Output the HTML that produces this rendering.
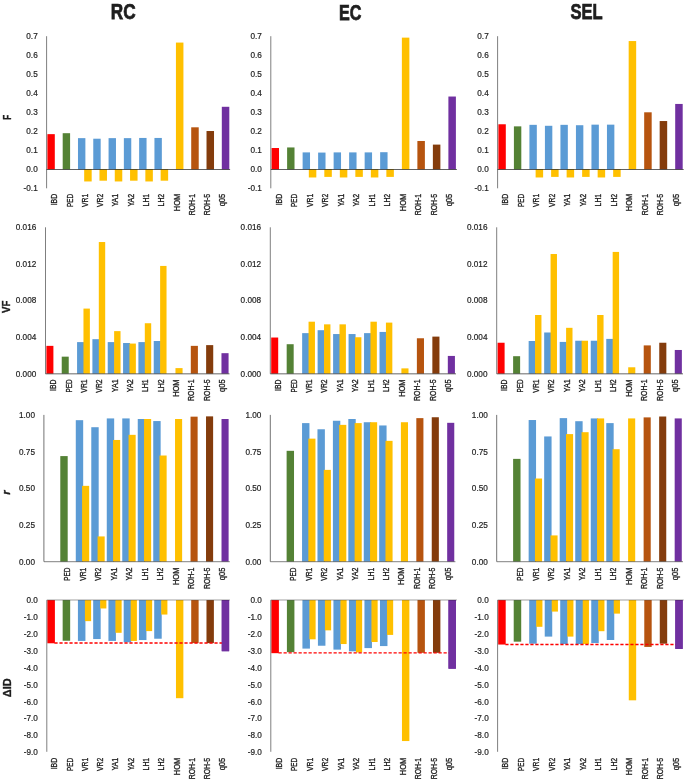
<!DOCTYPE html>
<html><head><meta charset="utf-8"><style>
html,body{margin:0;padding:0;background:#fff;}
body{width:685px;height:780px;overflow:hidden;}
svg{display:block;will-change:transform;}
text{font-family:"Liberation Sans", sans-serif;fill:#1e1e1e;stroke:#1e1e1e;stroke-width:0.2px;}
</style></head><body>
<svg width="685" height="780" viewBox="0 0 685 780">
<rect x="47.40" y="134.15" width="7.40" height="35.15" fill="#FF0000"/>
<rect x="62.69" y="133.20" width="7.40" height="36.10" fill="#548235"/>
<rect x="77.98" y="138.14" width="7.40" height="31.16" fill="#5B9BD5"/>
<rect x="93.27" y="138.71" width="7.40" height="30.59" fill="#5B9BD5"/>
<rect x="108.57" y="138.14" width="7.40" height="31.16" fill="#5B9BD5"/>
<rect x="123.86" y="138.14" width="7.40" height="31.16" fill="#5B9BD5"/>
<rect x="139.15" y="137.95" width="7.40" height="31.35" fill="#5B9BD5"/>
<rect x="154.44" y="137.95" width="7.40" height="31.35" fill="#5B9BD5"/>
<rect x="84.18" y="169.30" width="7.50" height="12.16" fill="#FFC000"/>
<rect x="99.47" y="169.30" width="7.50" height="11.40" fill="#FFC000"/>
<rect x="114.77" y="169.30" width="7.50" height="12.16" fill="#FFC000"/>
<rect x="130.06" y="169.30" width="7.50" height="11.40" fill="#FFC000"/>
<rect x="145.35" y="169.30" width="7.50" height="12.16" fill="#FFC000"/>
<rect x="160.64" y="169.30" width="7.50" height="11.40" fill="#FFC000"/>
<rect x="175.93" y="42.57" width="7.50" height="126.73" fill="#FFC000"/>
<rect x="191.22" y="127.31" width="7.50" height="41.99" fill="#B6540F"/>
<rect x="206.52" y="131.02" width="7.50" height="38.28" fill="#843C0C"/>
<rect x="221.81" y="106.79" width="7.50" height="62.51" fill="#7030A0"/>
<line x1="46.60" y1="169.50" x2="230.10" y2="169.50" stroke="#000" stroke-width="1.1" stroke-opacity="0.62"/>
<line x1="46.60" y1="36.20" x2="46.60" y2="188.30" stroke="#000" stroke-width="1.0" stroke-opacity="0.5"/>
<text x="37.70" y="39.35" text-anchor="end" font-size="8.6" textLength="11.39" lengthAdjust="spacingAndGlyphs">0.7</text>
<text x="37.70" y="58.35" text-anchor="end" font-size="8.6" textLength="11.39" lengthAdjust="spacingAndGlyphs">0.6</text>
<text x="37.70" y="77.35" text-anchor="end" font-size="8.6" textLength="11.39" lengthAdjust="spacingAndGlyphs">0.5</text>
<text x="37.70" y="96.35" text-anchor="end" font-size="8.6" textLength="11.39" lengthAdjust="spacingAndGlyphs">0.4</text>
<text x="37.70" y="115.35" text-anchor="end" font-size="8.6" textLength="11.39" lengthAdjust="spacingAndGlyphs">0.3</text>
<text x="37.70" y="134.35" text-anchor="end" font-size="8.6" textLength="11.39" lengthAdjust="spacingAndGlyphs">0.2</text>
<text x="37.70" y="153.35" text-anchor="end" font-size="8.6" textLength="11.39" lengthAdjust="spacingAndGlyphs">0.1</text>
<text x="37.70" y="172.35" text-anchor="end" font-size="8.6" textLength="11.39" lengthAdjust="spacingAndGlyphs">0.0</text>
<text x="37.70" y="191.35" text-anchor="end" font-size="8.6" textLength="14.15" lengthAdjust="spacingAndGlyphs">-0.1</text>
<text transform="translate(57.25,193.80) rotate(-90)" text-anchor="end" font-size="8.5" style="stroke-width:0.32px" textLength="11.50" lengthAdjust="spacingAndGlyphs">IBD</text>
<text transform="translate(72.54,193.80) rotate(-90)" text-anchor="end" font-size="8.5" style="stroke-width:0.32px" textLength="13.20" lengthAdjust="spacingAndGlyphs">PED</text>
<text transform="translate(87.83,193.80) rotate(-90)" text-anchor="end" font-size="8.5" style="stroke-width:0.32px" textLength="13.28" lengthAdjust="spacingAndGlyphs">VR1</text>
<text transform="translate(103.12,193.80) rotate(-90)" text-anchor="end" font-size="8.5" style="stroke-width:0.32px" textLength="13.28" lengthAdjust="spacingAndGlyphs">VR2</text>
<text transform="translate(118.41,193.80) rotate(-90)" text-anchor="end" font-size="8.5" style="stroke-width:0.32px" textLength="12.82" lengthAdjust="spacingAndGlyphs">YA1</text>
<text transform="translate(133.70,193.80) rotate(-90)" text-anchor="end" font-size="8.5" style="stroke-width:0.32px" textLength="12.82" lengthAdjust="spacingAndGlyphs">YA2</text>
<text transform="translate(149.00,193.80) rotate(-90)" text-anchor="end" font-size="8.5" style="stroke-width:0.32px" textLength="12.63" lengthAdjust="spacingAndGlyphs">LH1</text>
<text transform="translate(164.29,193.80) rotate(-90)" text-anchor="end" font-size="8.5" style="stroke-width:0.32px" textLength="12.63" lengthAdjust="spacingAndGlyphs">LH2</text>
<text transform="translate(179.58,193.80) rotate(-90)" text-anchor="end" font-size="8.5" style="stroke-width:0.32px" textLength="17.44" lengthAdjust="spacingAndGlyphs">HOM</text>
<text transform="translate(194.87,193.80) rotate(-90)" text-anchor="end" font-size="8.5" style="stroke-width:0.32px" textLength="21.52" lengthAdjust="spacingAndGlyphs">ROH-1</text>
<text transform="translate(210.16,193.80) rotate(-90)" text-anchor="end" font-size="8.5" style="stroke-width:0.32px" textLength="21.52" lengthAdjust="spacingAndGlyphs">ROH-5</text>
<text transform="translate(225.45,193.80) rotate(-90)" text-anchor="end" font-size="8.5" style="stroke-width:0.32px" textLength="12.54" lengthAdjust="spacingAndGlyphs">q05</text>
<rect x="271.60" y="148.02" width="7.40" height="21.28" fill="#FF0000"/>
<rect x="287.11" y="147.45" width="7.40" height="21.85" fill="#548235"/>
<rect x="302.62" y="152.39" width="7.40" height="16.91" fill="#5B9BD5"/>
<rect x="318.12" y="152.58" width="7.40" height="16.72" fill="#5B9BD5"/>
<rect x="333.63" y="152.39" width="7.40" height="16.91" fill="#5B9BD5"/>
<rect x="349.14" y="152.39" width="7.40" height="16.91" fill="#5B9BD5"/>
<rect x="364.65" y="152.39" width="7.40" height="16.91" fill="#5B9BD5"/>
<rect x="380.16" y="152.20" width="7.40" height="17.10" fill="#5B9BD5"/>
<rect x="308.82" y="169.30" width="7.50" height="8.17" fill="#FFC000"/>
<rect x="324.32" y="169.30" width="7.50" height="7.60" fill="#FFC000"/>
<rect x="339.83" y="169.30" width="7.50" height="8.17" fill="#FFC000"/>
<rect x="355.34" y="169.30" width="7.50" height="7.60" fill="#FFC000"/>
<rect x="370.85" y="169.30" width="7.50" height="8.17" fill="#FFC000"/>
<rect x="386.36" y="169.30" width="7.50" height="7.60" fill="#FFC000"/>
<rect x="401.87" y="37.63" width="7.50" height="131.67" fill="#FFC000"/>
<rect x="417.38" y="140.99" width="7.50" height="28.31" fill="#B6540F"/>
<rect x="432.88" y="144.60" width="7.50" height="24.70" fill="#843C0C"/>
<rect x="448.39" y="96.53" width="7.50" height="72.77" fill="#7030A0"/>
<line x1="270.80" y1="169.50" x2="456.90" y2="169.50" stroke="#000" stroke-width="1.1" stroke-opacity="0.62"/>
<line x1="270.80" y1="36.20" x2="270.80" y2="188.30" stroke="#000" stroke-width="1.0" stroke-opacity="0.5"/>
<text x="261.90" y="39.35" text-anchor="end" font-size="8.6" textLength="11.39" lengthAdjust="spacingAndGlyphs">0.7</text>
<text x="261.90" y="58.35" text-anchor="end" font-size="8.6" textLength="11.39" lengthAdjust="spacingAndGlyphs">0.6</text>
<text x="261.90" y="77.35" text-anchor="end" font-size="8.6" textLength="11.39" lengthAdjust="spacingAndGlyphs">0.5</text>
<text x="261.90" y="96.35" text-anchor="end" font-size="8.6" textLength="11.39" lengthAdjust="spacingAndGlyphs">0.4</text>
<text x="261.90" y="115.35" text-anchor="end" font-size="8.6" textLength="11.39" lengthAdjust="spacingAndGlyphs">0.3</text>
<text x="261.90" y="134.35" text-anchor="end" font-size="8.6" textLength="11.39" lengthAdjust="spacingAndGlyphs">0.2</text>
<text x="261.90" y="153.35" text-anchor="end" font-size="8.6" textLength="11.39" lengthAdjust="spacingAndGlyphs">0.1</text>
<text x="261.90" y="172.35" text-anchor="end" font-size="8.6" textLength="11.39" lengthAdjust="spacingAndGlyphs">0.0</text>
<text x="261.90" y="191.35" text-anchor="end" font-size="8.6" textLength="14.15" lengthAdjust="spacingAndGlyphs">-0.1</text>
<text transform="translate(281.55,193.80) rotate(-90)" text-anchor="end" font-size="8.5" style="stroke-width:0.32px" textLength="11.50" lengthAdjust="spacingAndGlyphs">IBD</text>
<text transform="translate(297.06,193.80) rotate(-90)" text-anchor="end" font-size="8.5" style="stroke-width:0.32px" textLength="13.20" lengthAdjust="spacingAndGlyphs">PED</text>
<text transform="translate(312.57,193.80) rotate(-90)" text-anchor="end" font-size="8.5" style="stroke-width:0.32px" textLength="13.28" lengthAdjust="spacingAndGlyphs">VR1</text>
<text transform="translate(328.08,193.80) rotate(-90)" text-anchor="end" font-size="8.5" style="stroke-width:0.32px" textLength="13.28" lengthAdjust="spacingAndGlyphs">VR2</text>
<text transform="translate(343.59,193.80) rotate(-90)" text-anchor="end" font-size="8.5" style="stroke-width:0.32px" textLength="12.82" lengthAdjust="spacingAndGlyphs">YA1</text>
<text transform="translate(359.10,193.80) rotate(-90)" text-anchor="end" font-size="8.5" style="stroke-width:0.32px" textLength="12.82" lengthAdjust="spacingAndGlyphs">YA2</text>
<text transform="translate(374.60,193.80) rotate(-90)" text-anchor="end" font-size="8.5" style="stroke-width:0.32px" textLength="12.63" lengthAdjust="spacingAndGlyphs">LH1</text>
<text transform="translate(390.11,193.80) rotate(-90)" text-anchor="end" font-size="8.5" style="stroke-width:0.32px" textLength="12.63" lengthAdjust="spacingAndGlyphs">LH2</text>
<text transform="translate(405.62,193.80) rotate(-90)" text-anchor="end" font-size="8.5" style="stroke-width:0.32px" textLength="17.44" lengthAdjust="spacingAndGlyphs">HOM</text>
<text transform="translate(421.13,193.80) rotate(-90)" text-anchor="end" font-size="8.5" style="stroke-width:0.32px" textLength="21.52" lengthAdjust="spacingAndGlyphs">ROH-1</text>
<text transform="translate(436.64,193.80) rotate(-90)" text-anchor="end" font-size="8.5" style="stroke-width:0.32px" textLength="21.52" lengthAdjust="spacingAndGlyphs">ROH-5</text>
<text transform="translate(452.15,193.80) rotate(-90)" text-anchor="end" font-size="8.5" style="stroke-width:0.32px" textLength="12.54" lengthAdjust="spacingAndGlyphs">q05</text>
<rect x="498.40" y="124.27" width="7.40" height="45.03" fill="#FF0000"/>
<rect x="513.91" y="126.36" width="7.40" height="42.94" fill="#548235"/>
<rect x="529.42" y="124.84" width="7.40" height="44.46" fill="#5B9BD5"/>
<rect x="544.92" y="125.79" width="7.40" height="43.51" fill="#5B9BD5"/>
<rect x="560.43" y="124.84" width="7.40" height="44.46" fill="#5B9BD5"/>
<rect x="575.94" y="125.22" width="7.40" height="44.08" fill="#5B9BD5"/>
<rect x="591.45" y="124.65" width="7.40" height="44.65" fill="#5B9BD5"/>
<rect x="606.96" y="124.65" width="7.40" height="44.65" fill="#5B9BD5"/>
<rect x="535.62" y="169.30" width="7.50" height="8.17" fill="#FFC000"/>
<rect x="551.12" y="169.30" width="7.50" height="7.60" fill="#FFC000"/>
<rect x="566.63" y="169.30" width="7.50" height="8.17" fill="#FFC000"/>
<rect x="582.14" y="169.30" width="7.50" height="7.60" fill="#FFC000"/>
<rect x="597.65" y="169.30" width="7.50" height="8.17" fill="#FFC000"/>
<rect x="613.16" y="169.30" width="7.50" height="7.60" fill="#FFC000"/>
<rect x="628.67" y="41.05" width="7.50" height="128.25" fill="#FFC000"/>
<rect x="644.18" y="112.30" width="7.50" height="57.00" fill="#B6540F"/>
<rect x="659.68" y="121.04" width="7.50" height="48.26" fill="#843C0C"/>
<rect x="675.19" y="103.94" width="7.50" height="65.36" fill="#7030A0"/>
<line x1="497.60" y1="169.50" x2="683.70" y2="169.50" stroke="#000" stroke-width="1.1" stroke-opacity="0.62"/>
<line x1="497.60" y1="36.20" x2="497.60" y2="188.30" stroke="#000" stroke-width="1.0" stroke-opacity="0.5"/>
<text x="488.70" y="39.35" text-anchor="end" font-size="8.6" textLength="11.39" lengthAdjust="spacingAndGlyphs">0.7</text>
<text x="488.70" y="58.35" text-anchor="end" font-size="8.6" textLength="11.39" lengthAdjust="spacingAndGlyphs">0.6</text>
<text x="488.70" y="77.35" text-anchor="end" font-size="8.6" textLength="11.39" lengthAdjust="spacingAndGlyphs">0.5</text>
<text x="488.70" y="96.35" text-anchor="end" font-size="8.6" textLength="11.39" lengthAdjust="spacingAndGlyphs">0.4</text>
<text x="488.70" y="115.35" text-anchor="end" font-size="8.6" textLength="11.39" lengthAdjust="spacingAndGlyphs">0.3</text>
<text x="488.70" y="134.35" text-anchor="end" font-size="8.6" textLength="11.39" lengthAdjust="spacingAndGlyphs">0.2</text>
<text x="488.70" y="153.35" text-anchor="end" font-size="8.6" textLength="11.39" lengthAdjust="spacingAndGlyphs">0.1</text>
<text x="488.70" y="172.35" text-anchor="end" font-size="8.6" textLength="11.39" lengthAdjust="spacingAndGlyphs">0.0</text>
<text x="488.70" y="191.35" text-anchor="end" font-size="8.6" textLength="14.15" lengthAdjust="spacingAndGlyphs">-0.1</text>
<text transform="translate(508.35,193.80) rotate(-90)" text-anchor="end" font-size="8.5" style="stroke-width:0.32px" textLength="11.50" lengthAdjust="spacingAndGlyphs">IBD</text>
<text transform="translate(523.86,193.80) rotate(-90)" text-anchor="end" font-size="8.5" style="stroke-width:0.32px" textLength="13.20" lengthAdjust="spacingAndGlyphs">PED</text>
<text transform="translate(539.37,193.80) rotate(-90)" text-anchor="end" font-size="8.5" style="stroke-width:0.32px" textLength="13.28" lengthAdjust="spacingAndGlyphs">VR1</text>
<text transform="translate(554.88,193.80) rotate(-90)" text-anchor="end" font-size="8.5" style="stroke-width:0.32px" textLength="13.28" lengthAdjust="spacingAndGlyphs">VR2</text>
<text transform="translate(570.39,193.80) rotate(-90)" text-anchor="end" font-size="8.5" style="stroke-width:0.32px" textLength="12.82" lengthAdjust="spacingAndGlyphs">YA1</text>
<text transform="translate(585.90,193.80) rotate(-90)" text-anchor="end" font-size="8.5" style="stroke-width:0.32px" textLength="12.82" lengthAdjust="spacingAndGlyphs">YA2</text>
<text transform="translate(601.40,193.80) rotate(-90)" text-anchor="end" font-size="8.5" style="stroke-width:0.32px" textLength="12.63" lengthAdjust="spacingAndGlyphs">LH1</text>
<text transform="translate(616.91,193.80) rotate(-90)" text-anchor="end" font-size="8.5" style="stroke-width:0.32px" textLength="12.63" lengthAdjust="spacingAndGlyphs">LH2</text>
<text transform="translate(632.42,193.80) rotate(-90)" text-anchor="end" font-size="8.5" style="stroke-width:0.32px" textLength="17.44" lengthAdjust="spacingAndGlyphs">HOM</text>
<text transform="translate(647.93,193.80) rotate(-90)" text-anchor="end" font-size="8.5" style="stroke-width:0.32px" textLength="21.52" lengthAdjust="spacingAndGlyphs">ROH-1</text>
<text transform="translate(663.44,193.80) rotate(-90)" text-anchor="end" font-size="8.5" style="stroke-width:0.32px" textLength="21.52" lengthAdjust="spacingAndGlyphs">ROH-5</text>
<text transform="translate(678.95,193.80) rotate(-90)" text-anchor="end" font-size="8.5" style="stroke-width:0.32px" textLength="12.54" lengthAdjust="spacingAndGlyphs">q05</text>
<rect x="46.40" y="345.86" width="7.00" height="27.74" fill="#FF0000"/>
<rect x="61.73" y="356.66" width="7.00" height="16.94" fill="#548235"/>
<rect x="77.07" y="342.10" width="7.00" height="31.50" fill="#5B9BD5"/>
<rect x="92.40" y="339.17" width="7.00" height="34.43" fill="#5B9BD5"/>
<rect x="107.73" y="342.10" width="7.00" height="31.50" fill="#5B9BD5"/>
<rect x="123.07" y="343.02" width="7.00" height="30.58" fill="#5B9BD5"/>
<rect x="138.40" y="342.10" width="7.00" height="31.50" fill="#5B9BD5"/>
<rect x="153.73" y="341.00" width="7.00" height="32.60" fill="#5B9BD5"/>
<rect x="83.47" y="308.59" width="6.40" height="65.01" fill="#FFC000"/>
<rect x="98.80" y="242.03" width="6.40" height="131.57" fill="#FFC000"/>
<rect x="114.13" y="331.12" width="6.40" height="42.48" fill="#FFC000"/>
<rect x="129.47" y="343.57" width="6.40" height="30.03" fill="#FFC000"/>
<rect x="144.80" y="323.24" width="6.40" height="50.36" fill="#FFC000"/>
<rect x="160.13" y="265.93" width="6.40" height="107.67" fill="#FFC000"/>
<rect x="175.47" y="368.11" width="7.10" height="5.49" fill="#FFC000"/>
<rect x="190.80" y="345.86" width="7.10" height="27.74" fill="#B6540F"/>
<rect x="206.13" y="345.12" width="7.10" height="28.48" fill="#843C0C"/>
<rect x="221.47" y="353.18" width="7.10" height="20.42" fill="#7030A0"/>
<line x1="45.50" y1="373.80" x2="229.50" y2="373.80" stroke="#000" stroke-width="1.5" stroke-opacity="0.4"/>
<line x1="45.50" y1="227.30" x2="45.50" y2="373.80" stroke="#000" stroke-width="1.0" stroke-opacity="0.5"/>
<text x="36.30" y="230.15" text-anchor="end" font-size="8.6" textLength="20.52" lengthAdjust="spacingAndGlyphs">0.016</text>
<text x="36.30" y="266.78" text-anchor="end" font-size="8.6" textLength="20.52" lengthAdjust="spacingAndGlyphs">0.012</text>
<text x="36.30" y="303.40" text-anchor="end" font-size="8.6" textLength="20.52" lengthAdjust="spacingAndGlyphs">0.008</text>
<text x="36.30" y="340.03" text-anchor="end" font-size="8.6" textLength="20.52" lengthAdjust="spacingAndGlyphs">0.004</text>
<text x="36.30" y="376.65" text-anchor="end" font-size="8.6" textLength="20.52" lengthAdjust="spacingAndGlyphs">0.000</text>
<text transform="translate(56.17,379.40) rotate(-90)" text-anchor="end" font-size="8.5" style="stroke-width:0.32px" textLength="11.50" lengthAdjust="spacingAndGlyphs">IBD</text>
<text transform="translate(71.50,379.40) rotate(-90)" text-anchor="end" font-size="8.5" style="stroke-width:0.32px" textLength="13.20" lengthAdjust="spacingAndGlyphs">PED</text>
<text transform="translate(86.83,379.40) rotate(-90)" text-anchor="end" font-size="8.5" style="stroke-width:0.32px" textLength="13.28" lengthAdjust="spacingAndGlyphs">VR1</text>
<text transform="translate(102.17,379.40) rotate(-90)" text-anchor="end" font-size="8.5" style="stroke-width:0.32px" textLength="13.28" lengthAdjust="spacingAndGlyphs">VR2</text>
<text transform="translate(117.50,379.40) rotate(-90)" text-anchor="end" font-size="8.5" style="stroke-width:0.32px" textLength="12.82" lengthAdjust="spacingAndGlyphs">YA1</text>
<text transform="translate(132.83,379.40) rotate(-90)" text-anchor="end" font-size="8.5" style="stroke-width:0.32px" textLength="12.82" lengthAdjust="spacingAndGlyphs">YA2</text>
<text transform="translate(148.17,379.40) rotate(-90)" text-anchor="end" font-size="8.5" style="stroke-width:0.32px" textLength="12.63" lengthAdjust="spacingAndGlyphs">LH1</text>
<text transform="translate(163.50,379.40) rotate(-90)" text-anchor="end" font-size="8.5" style="stroke-width:0.32px" textLength="12.63" lengthAdjust="spacingAndGlyphs">LH2</text>
<text transform="translate(178.83,379.40) rotate(-90)" text-anchor="end" font-size="8.5" style="stroke-width:0.32px" textLength="17.44" lengthAdjust="spacingAndGlyphs">HOM</text>
<text transform="translate(194.17,379.40) rotate(-90)" text-anchor="end" font-size="8.5" style="stroke-width:0.32px" textLength="21.52" lengthAdjust="spacingAndGlyphs">ROH-1</text>
<text transform="translate(209.50,379.40) rotate(-90)" text-anchor="end" font-size="8.5" style="stroke-width:0.32px" textLength="21.52" lengthAdjust="spacingAndGlyphs">ROH-5</text>
<text transform="translate(224.83,379.40) rotate(-90)" text-anchor="end" font-size="8.5" style="stroke-width:0.32px" textLength="12.54" lengthAdjust="spacingAndGlyphs">q05</text>
<rect x="271.20" y="337.53" width="7.00" height="36.07" fill="#FF0000"/>
<rect x="286.68" y="344.21" width="7.00" height="29.39" fill="#548235"/>
<rect x="302.15" y="333.13" width="7.00" height="40.47" fill="#5B9BD5"/>
<rect x="317.62" y="330.20" width="7.00" height="43.40" fill="#5B9BD5"/>
<rect x="333.10" y="334.05" width="7.00" height="39.55" fill="#5B9BD5"/>
<rect x="348.57" y="334.05" width="7.00" height="39.55" fill="#5B9BD5"/>
<rect x="364.05" y="333.13" width="7.00" height="40.47" fill="#5B9BD5"/>
<rect x="379.52" y="331.94" width="7.00" height="41.66" fill="#5B9BD5"/>
<rect x="308.55" y="321.69" width="6.40" height="51.91" fill="#FFC000"/>
<rect x="324.03" y="324.34" width="6.40" height="49.26" fill="#FFC000"/>
<rect x="339.50" y="324.34" width="6.40" height="49.26" fill="#FFC000"/>
<rect x="354.98" y="337.25" width="6.40" height="36.35" fill="#FFC000"/>
<rect x="370.45" y="321.69" width="6.40" height="51.91" fill="#FFC000"/>
<rect x="385.93" y="322.60" width="6.40" height="51.00" fill="#FFC000"/>
<rect x="401.40" y="368.38" width="7.10" height="5.22" fill="#FFC000"/>
<rect x="416.88" y="338.26" width="7.10" height="35.34" fill="#B6540F"/>
<rect x="432.35" y="336.61" width="7.10" height="36.99" fill="#843C0C"/>
<rect x="447.82" y="355.93" width="7.10" height="17.67" fill="#7030A0"/>
<line x1="270.30" y1="373.80" x2="456.00" y2="373.80" stroke="#000" stroke-width="1.5" stroke-opacity="0.4"/>
<line x1="270.30" y1="227.30" x2="270.30" y2="373.80" stroke="#000" stroke-width="1.0" stroke-opacity="0.5"/>
<text x="261.10" y="230.15" text-anchor="end" font-size="8.6" textLength="20.52" lengthAdjust="spacingAndGlyphs">0.016</text>
<text x="261.10" y="266.78" text-anchor="end" font-size="8.6" textLength="20.52" lengthAdjust="spacingAndGlyphs">0.012</text>
<text x="261.10" y="303.40" text-anchor="end" font-size="8.6" textLength="20.52" lengthAdjust="spacingAndGlyphs">0.008</text>
<text x="261.10" y="340.03" text-anchor="end" font-size="8.6" textLength="20.52" lengthAdjust="spacingAndGlyphs">0.004</text>
<text x="261.10" y="376.65" text-anchor="end" font-size="8.6" textLength="20.52" lengthAdjust="spacingAndGlyphs">0.000</text>
<text transform="translate(281.04,379.40) rotate(-90)" text-anchor="end" font-size="8.5" style="stroke-width:0.32px" textLength="11.50" lengthAdjust="spacingAndGlyphs">IBD</text>
<text transform="translate(296.51,379.40) rotate(-90)" text-anchor="end" font-size="8.5" style="stroke-width:0.32px" textLength="13.20" lengthAdjust="spacingAndGlyphs">PED</text>
<text transform="translate(311.99,379.40) rotate(-90)" text-anchor="end" font-size="8.5" style="stroke-width:0.32px" textLength="13.28" lengthAdjust="spacingAndGlyphs">VR1</text>
<text transform="translate(327.46,379.40) rotate(-90)" text-anchor="end" font-size="8.5" style="stroke-width:0.32px" textLength="13.28" lengthAdjust="spacingAndGlyphs">VR2</text>
<text transform="translate(342.94,379.40) rotate(-90)" text-anchor="end" font-size="8.5" style="stroke-width:0.32px" textLength="12.82" lengthAdjust="spacingAndGlyphs">YA1</text>
<text transform="translate(358.41,379.40) rotate(-90)" text-anchor="end" font-size="8.5" style="stroke-width:0.32px" textLength="12.82" lengthAdjust="spacingAndGlyphs">YA2</text>
<text transform="translate(373.89,379.40) rotate(-90)" text-anchor="end" font-size="8.5" style="stroke-width:0.32px" textLength="12.63" lengthAdjust="spacingAndGlyphs">LH1</text>
<text transform="translate(389.36,379.40) rotate(-90)" text-anchor="end" font-size="8.5" style="stroke-width:0.32px" textLength="12.63" lengthAdjust="spacingAndGlyphs">LH2</text>
<text transform="translate(404.84,379.40) rotate(-90)" text-anchor="end" font-size="8.5" style="stroke-width:0.32px" textLength="17.44" lengthAdjust="spacingAndGlyphs">HOM</text>
<text transform="translate(420.31,379.40) rotate(-90)" text-anchor="end" font-size="8.5" style="stroke-width:0.32px" textLength="21.52" lengthAdjust="spacingAndGlyphs">ROH-1</text>
<text transform="translate(435.79,379.40) rotate(-90)" text-anchor="end" font-size="8.5" style="stroke-width:0.32px" textLength="21.52" lengthAdjust="spacingAndGlyphs">ROH-5</text>
<text transform="translate(451.26,379.40) rotate(-90)" text-anchor="end" font-size="8.5" style="stroke-width:0.32px" textLength="12.54" lengthAdjust="spacingAndGlyphs">q05</text>
<rect x="497.60" y="342.74" width="7.00" height="30.86" fill="#FF0000"/>
<rect x="513.12" y="356.20" width="7.00" height="17.40" fill="#548235"/>
<rect x="528.65" y="341.00" width="7.00" height="32.60" fill="#5B9BD5"/>
<rect x="544.17" y="332.49" width="7.00" height="41.11" fill="#5B9BD5"/>
<rect x="559.70" y="341.92" width="7.00" height="31.68" fill="#5B9BD5"/>
<rect x="575.23" y="340.73" width="7.00" height="32.87" fill="#5B9BD5"/>
<rect x="590.75" y="340.73" width="7.00" height="32.87" fill="#5B9BD5"/>
<rect x="606.27" y="338.90" width="7.00" height="34.70" fill="#5B9BD5"/>
<rect x="535.05" y="315.00" width="6.40" height="58.60" fill="#FFC000"/>
<rect x="550.57" y="254.02" width="6.40" height="119.58" fill="#FFC000"/>
<rect x="566.10" y="327.82" width="6.40" height="45.78" fill="#FFC000"/>
<rect x="581.62" y="340.73" width="6.40" height="32.87" fill="#FFC000"/>
<rect x="597.15" y="315.00" width="6.40" height="58.60" fill="#FFC000"/>
<rect x="612.67" y="251.92" width="6.40" height="121.68" fill="#FFC000"/>
<rect x="628.20" y="367.28" width="7.10" height="6.32" fill="#FFC000"/>
<rect x="643.72" y="345.40" width="7.10" height="28.20" fill="#B6540F"/>
<rect x="659.25" y="342.74" width="7.10" height="30.86" fill="#843C0C"/>
<rect x="674.77" y="349.98" width="7.10" height="23.62" fill="#7030A0"/>
<line x1="496.70" y1="373.80" x2="683.00" y2="373.80" stroke="#000" stroke-width="1.5" stroke-opacity="0.4"/>
<line x1="496.70" y1="227.30" x2="496.70" y2="373.80" stroke="#000" stroke-width="1.0" stroke-opacity="0.5"/>
<text x="487.50" y="230.15" text-anchor="end" font-size="8.6" textLength="20.52" lengthAdjust="spacingAndGlyphs">0.016</text>
<text x="487.50" y="266.78" text-anchor="end" font-size="8.6" textLength="20.52" lengthAdjust="spacingAndGlyphs">0.012</text>
<text x="487.50" y="303.40" text-anchor="end" font-size="8.6" textLength="20.52" lengthAdjust="spacingAndGlyphs">0.008</text>
<text x="487.50" y="340.03" text-anchor="end" font-size="8.6" textLength="20.52" lengthAdjust="spacingAndGlyphs">0.004</text>
<text x="487.50" y="376.65" text-anchor="end" font-size="8.6" textLength="20.52" lengthAdjust="spacingAndGlyphs">0.000</text>
<text transform="translate(507.46,379.40) rotate(-90)" text-anchor="end" font-size="8.5" style="stroke-width:0.32px" textLength="11.50" lengthAdjust="spacingAndGlyphs">IBD</text>
<text transform="translate(522.99,379.40) rotate(-90)" text-anchor="end" font-size="8.5" style="stroke-width:0.32px" textLength="13.20" lengthAdjust="spacingAndGlyphs">PED</text>
<text transform="translate(538.51,379.40) rotate(-90)" text-anchor="end" font-size="8.5" style="stroke-width:0.32px" textLength="13.28" lengthAdjust="spacingAndGlyphs">VR1</text>
<text transform="translate(554.04,379.40) rotate(-90)" text-anchor="end" font-size="8.5" style="stroke-width:0.32px" textLength="13.28" lengthAdjust="spacingAndGlyphs">VR2</text>
<text transform="translate(569.56,379.40) rotate(-90)" text-anchor="end" font-size="8.5" style="stroke-width:0.32px" textLength="12.82" lengthAdjust="spacingAndGlyphs">YA1</text>
<text transform="translate(585.09,379.40) rotate(-90)" text-anchor="end" font-size="8.5" style="stroke-width:0.32px" textLength="12.82" lengthAdjust="spacingAndGlyphs">YA2</text>
<text transform="translate(600.61,379.40) rotate(-90)" text-anchor="end" font-size="8.5" style="stroke-width:0.32px" textLength="12.63" lengthAdjust="spacingAndGlyphs">LH1</text>
<text transform="translate(616.14,379.40) rotate(-90)" text-anchor="end" font-size="8.5" style="stroke-width:0.32px" textLength="12.63" lengthAdjust="spacingAndGlyphs">LH2</text>
<text transform="translate(631.66,379.40) rotate(-90)" text-anchor="end" font-size="8.5" style="stroke-width:0.32px" textLength="17.44" lengthAdjust="spacingAndGlyphs">HOM</text>
<text transform="translate(647.19,379.40) rotate(-90)" text-anchor="end" font-size="8.5" style="stroke-width:0.32px" textLength="21.52" lengthAdjust="spacingAndGlyphs">ROH-1</text>
<text transform="translate(662.71,379.40) rotate(-90)" text-anchor="end" font-size="8.5" style="stroke-width:0.32px" textLength="21.52" lengthAdjust="spacingAndGlyphs">ROH-5</text>
<text transform="translate(678.24,379.40) rotate(-90)" text-anchor="end" font-size="8.5" style="stroke-width:0.32px" textLength="12.54" lengthAdjust="spacingAndGlyphs">q05</text>
<rect x="60.29" y="456.09" width="7.40" height="105.41" fill="#548235"/>
<rect x="75.78" y="420.18" width="7.40" height="141.32" fill="#5B9BD5"/>
<rect x="91.28" y="427.21" width="7.40" height="134.29" fill="#5B9BD5"/>
<rect x="106.77" y="418.42" width="7.40" height="143.08" fill="#5B9BD5"/>
<rect x="122.26" y="418.42" width="7.40" height="143.08" fill="#5B9BD5"/>
<rect x="137.75" y="419.00" width="7.40" height="142.50" fill="#5B9BD5"/>
<rect x="153.24" y="421.06" width="7.40" height="140.44" fill="#5B9BD5"/>
<rect x="82.08" y="485.85" width="7.10" height="75.65" fill="#FFC000"/>
<rect x="97.58" y="536.43" width="7.10" height="25.07" fill="#FFC000"/>
<rect x="113.07" y="439.97" width="7.10" height="121.53" fill="#FFC000"/>
<rect x="128.56" y="434.84" width="7.10" height="126.66" fill="#FFC000"/>
<rect x="144.05" y="419.00" width="7.10" height="142.50" fill="#FFC000"/>
<rect x="159.54" y="455.51" width="7.10" height="105.99" fill="#FFC000"/>
<rect x="175.03" y="419.00" width="7.10" height="142.50" fill="#FFC000"/>
<rect x="190.53" y="416.66" width="7.10" height="144.84" fill="#B6540F"/>
<rect x="206.02" y="416.37" width="7.10" height="145.13" fill="#843C0C"/>
<rect x="221.51" y="419.00" width="7.10" height="142.50" fill="#7030A0"/>
<line x1="43.90" y1="561.60" x2="229.80" y2="561.60" stroke="#000" stroke-width="1.3" stroke-opacity="0.4"/>
<line x1="43.90" y1="414.90" x2="43.90" y2="561.60" stroke="#000" stroke-width="1.0" stroke-opacity="0.55"/>
<text x="35.00" y="417.95" text-anchor="end" font-size="8.6" textLength="15.96" lengthAdjust="spacingAndGlyphs">1.00</text>
<text x="35.00" y="454.60" text-anchor="end" font-size="8.6" textLength="15.96" lengthAdjust="spacingAndGlyphs">0.75</text>
<text x="35.00" y="491.25" text-anchor="end" font-size="8.6" textLength="15.96" lengthAdjust="spacingAndGlyphs">0.50</text>
<text x="35.00" y="527.90" text-anchor="end" font-size="8.6" textLength="15.96" lengthAdjust="spacingAndGlyphs">0.25</text>
<text x="35.00" y="564.55" text-anchor="end" font-size="8.6" textLength="15.96" lengthAdjust="spacingAndGlyphs">0.00</text>
<text transform="translate(70.14,567.60) rotate(-90)" text-anchor="end" font-size="8.5" style="stroke-width:0.32px" textLength="13.20" lengthAdjust="spacingAndGlyphs">PED</text>
<text transform="translate(85.63,567.60) rotate(-90)" text-anchor="end" font-size="8.5" style="stroke-width:0.32px" textLength="13.28" lengthAdjust="spacingAndGlyphs">VR1</text>
<text transform="translate(101.12,567.60) rotate(-90)" text-anchor="end" font-size="8.5" style="stroke-width:0.32px" textLength="13.28" lengthAdjust="spacingAndGlyphs">VR2</text>
<text transform="translate(116.61,567.60) rotate(-90)" text-anchor="end" font-size="8.5" style="stroke-width:0.32px" textLength="12.82" lengthAdjust="spacingAndGlyphs">YA1</text>
<text transform="translate(132.10,567.60) rotate(-90)" text-anchor="end" font-size="8.5" style="stroke-width:0.32px" textLength="12.82" lengthAdjust="spacingAndGlyphs">YA2</text>
<text transform="translate(147.60,567.60) rotate(-90)" text-anchor="end" font-size="8.5" style="stroke-width:0.32px" textLength="12.63" lengthAdjust="spacingAndGlyphs">LH1</text>
<text transform="translate(163.09,567.60) rotate(-90)" text-anchor="end" font-size="8.5" style="stroke-width:0.32px" textLength="12.63" lengthAdjust="spacingAndGlyphs">LH2</text>
<text transform="translate(178.58,567.60) rotate(-90)" text-anchor="end" font-size="8.5" style="stroke-width:0.32px" textLength="17.44" lengthAdjust="spacingAndGlyphs">HOM</text>
<text transform="translate(194.07,567.60) rotate(-90)" text-anchor="end" font-size="8.5" style="stroke-width:0.32px" textLength="21.52" lengthAdjust="spacingAndGlyphs">ROH-1</text>
<text transform="translate(209.56,567.60) rotate(-90)" text-anchor="end" font-size="8.5" style="stroke-width:0.32px" textLength="21.52" lengthAdjust="spacingAndGlyphs">ROH-5</text>
<text transform="translate(225.05,567.60) rotate(-90)" text-anchor="end" font-size="8.5" style="stroke-width:0.32px" textLength="12.54" lengthAdjust="spacingAndGlyphs">q05</text>
<rect x="286.62" y="450.82" width="7.40" height="110.68" fill="#548235"/>
<rect x="302.05" y="423.11" width="7.40" height="138.39" fill="#5B9BD5"/>
<rect x="317.47" y="429.27" width="7.40" height="132.23" fill="#5B9BD5"/>
<rect x="332.90" y="420.76" width="7.40" height="140.74" fill="#5B9BD5"/>
<rect x="348.32" y="419.00" width="7.40" height="142.50" fill="#5B9BD5"/>
<rect x="363.75" y="422.23" width="7.40" height="139.27" fill="#5B9BD5"/>
<rect x="379.17" y="425.46" width="7.40" height="136.04" fill="#5B9BD5"/>
<rect x="308.35" y="438.65" width="7.10" height="122.85" fill="#FFC000"/>
<rect x="323.77" y="469.88" width="7.10" height="91.62" fill="#FFC000"/>
<rect x="339.20" y="424.87" width="7.10" height="136.63" fill="#FFC000"/>
<rect x="354.62" y="423.11" width="7.10" height="138.39" fill="#FFC000"/>
<rect x="370.05" y="422.23" width="7.10" height="139.27" fill="#FFC000"/>
<rect x="385.47" y="440.85" width="7.10" height="120.65" fill="#FFC000"/>
<rect x="400.90" y="422.23" width="7.10" height="139.27" fill="#FFC000"/>
<rect x="416.32" y="418.13" width="7.10" height="143.37" fill="#B6540F"/>
<rect x="431.75" y="417.25" width="7.10" height="144.25" fill="#843C0C"/>
<rect x="447.17" y="422.82" width="7.10" height="138.68" fill="#7030A0"/>
<line x1="270.30" y1="561.60" x2="455.40" y2="561.60" stroke="#000" stroke-width="1.3" stroke-opacity="0.4"/>
<line x1="270.30" y1="414.90" x2="270.30" y2="561.60" stroke="#000" stroke-width="1.0" stroke-opacity="0.55"/>
<text x="261.40" y="417.95" text-anchor="end" font-size="8.6" textLength="15.96" lengthAdjust="spacingAndGlyphs">1.00</text>
<text x="261.40" y="454.60" text-anchor="end" font-size="8.6" textLength="15.96" lengthAdjust="spacingAndGlyphs">0.75</text>
<text x="261.40" y="491.25" text-anchor="end" font-size="8.6" textLength="15.96" lengthAdjust="spacingAndGlyphs">0.50</text>
<text x="261.40" y="527.90" text-anchor="end" font-size="8.6" textLength="15.96" lengthAdjust="spacingAndGlyphs">0.25</text>
<text x="261.40" y="564.55" text-anchor="end" font-size="8.6" textLength="15.96" lengthAdjust="spacingAndGlyphs">0.00</text>
<text transform="translate(296.44,567.60) rotate(-90)" text-anchor="end" font-size="8.5" style="stroke-width:0.32px" textLength="13.20" lengthAdjust="spacingAndGlyphs">PED</text>
<text transform="translate(311.86,567.60) rotate(-90)" text-anchor="end" font-size="8.5" style="stroke-width:0.32px" textLength="13.28" lengthAdjust="spacingAndGlyphs">VR1</text>
<text transform="translate(327.29,567.60) rotate(-90)" text-anchor="end" font-size="8.5" style="stroke-width:0.32px" textLength="13.28" lengthAdjust="spacingAndGlyphs">VR2</text>
<text transform="translate(342.71,567.60) rotate(-90)" text-anchor="end" font-size="8.5" style="stroke-width:0.32px" textLength="12.82" lengthAdjust="spacingAndGlyphs">YA1</text>
<text transform="translate(358.14,567.60) rotate(-90)" text-anchor="end" font-size="8.5" style="stroke-width:0.32px" textLength="12.82" lengthAdjust="spacingAndGlyphs">YA2</text>
<text transform="translate(373.56,567.60) rotate(-90)" text-anchor="end" font-size="8.5" style="stroke-width:0.32px" textLength="12.63" lengthAdjust="spacingAndGlyphs">LH1</text>
<text transform="translate(388.99,567.60) rotate(-90)" text-anchor="end" font-size="8.5" style="stroke-width:0.32px" textLength="12.63" lengthAdjust="spacingAndGlyphs">LH2</text>
<text transform="translate(404.41,567.60) rotate(-90)" text-anchor="end" font-size="8.5" style="stroke-width:0.32px" textLength="17.44" lengthAdjust="spacingAndGlyphs">HOM</text>
<text transform="translate(419.84,567.60) rotate(-90)" text-anchor="end" font-size="8.5" style="stroke-width:0.32px" textLength="21.52" lengthAdjust="spacingAndGlyphs">ROH-1</text>
<text transform="translate(435.26,567.60) rotate(-90)" text-anchor="end" font-size="8.5" style="stroke-width:0.32px" textLength="21.52" lengthAdjust="spacingAndGlyphs">ROH-5</text>
<text transform="translate(450.69,567.60) rotate(-90)" text-anchor="end" font-size="8.5" style="stroke-width:0.32px" textLength="12.54" lengthAdjust="spacingAndGlyphs">q05</text>
<rect x="513.12" y="458.88" width="7.40" height="102.62" fill="#548235"/>
<rect x="528.65" y="420.03" width="7.40" height="141.47" fill="#5B9BD5"/>
<rect x="544.17" y="436.45" width="7.40" height="125.05" fill="#5B9BD5"/>
<rect x="559.70" y="418.13" width="7.40" height="143.37" fill="#5B9BD5"/>
<rect x="575.23" y="421.20" width="7.40" height="140.30" fill="#5B9BD5"/>
<rect x="590.75" y="418.42" width="7.40" height="143.08" fill="#5B9BD5"/>
<rect x="606.27" y="423.11" width="7.40" height="138.39" fill="#5B9BD5"/>
<rect x="534.95" y="478.52" width="7.10" height="82.98" fill="#FFC000"/>
<rect x="550.48" y="535.41" width="7.10" height="26.09" fill="#FFC000"/>
<rect x="566.00" y="434.10" width="7.10" height="127.40" fill="#FFC000"/>
<rect x="581.53" y="432.20" width="7.10" height="129.30" fill="#FFC000"/>
<rect x="597.05" y="418.42" width="7.10" height="143.08" fill="#FFC000"/>
<rect x="612.58" y="449.20" width="7.10" height="112.30" fill="#FFC000"/>
<rect x="628.10" y="418.42" width="7.10" height="143.08" fill="#FFC000"/>
<rect x="643.62" y="417.39" width="7.10" height="144.11" fill="#B6540F"/>
<rect x="659.15" y="416.51" width="7.10" height="144.99" fill="#843C0C"/>
<rect x="674.68" y="418.42" width="7.10" height="143.08" fill="#7030A0"/>
<line x1="496.70" y1="561.60" x2="683.00" y2="561.60" stroke="#000" stroke-width="1.3" stroke-opacity="0.4"/>
<line x1="496.70" y1="414.90" x2="496.70" y2="561.60" stroke="#000" stroke-width="1.0" stroke-opacity="0.55"/>
<text x="487.80" y="417.95" text-anchor="end" font-size="8.6" textLength="15.96" lengthAdjust="spacingAndGlyphs">1.00</text>
<text x="487.80" y="454.60" text-anchor="end" font-size="8.6" textLength="15.96" lengthAdjust="spacingAndGlyphs">0.75</text>
<text x="487.80" y="491.25" text-anchor="end" font-size="8.6" textLength="15.96" lengthAdjust="spacingAndGlyphs">0.50</text>
<text x="487.80" y="527.90" text-anchor="end" font-size="8.6" textLength="15.96" lengthAdjust="spacingAndGlyphs">0.25</text>
<text x="487.80" y="564.55" text-anchor="end" font-size="8.6" textLength="15.96" lengthAdjust="spacingAndGlyphs">0.00</text>
<text transform="translate(522.99,567.60) rotate(-90)" text-anchor="end" font-size="8.5" style="stroke-width:0.32px" textLength="13.20" lengthAdjust="spacingAndGlyphs">PED</text>
<text transform="translate(538.51,567.60) rotate(-90)" text-anchor="end" font-size="8.5" style="stroke-width:0.32px" textLength="13.28" lengthAdjust="spacingAndGlyphs">VR1</text>
<text transform="translate(554.04,567.60) rotate(-90)" text-anchor="end" font-size="8.5" style="stroke-width:0.32px" textLength="13.28" lengthAdjust="spacingAndGlyphs">VR2</text>
<text transform="translate(569.56,567.60) rotate(-90)" text-anchor="end" font-size="8.5" style="stroke-width:0.32px" textLength="12.82" lengthAdjust="spacingAndGlyphs">YA1</text>
<text transform="translate(585.09,567.60) rotate(-90)" text-anchor="end" font-size="8.5" style="stroke-width:0.32px" textLength="12.82" lengthAdjust="spacingAndGlyphs">YA2</text>
<text transform="translate(600.61,567.60) rotate(-90)" text-anchor="end" font-size="8.5" style="stroke-width:0.32px" textLength="12.63" lengthAdjust="spacingAndGlyphs">LH1</text>
<text transform="translate(616.14,567.60) rotate(-90)" text-anchor="end" font-size="8.5" style="stroke-width:0.32px" textLength="12.63" lengthAdjust="spacingAndGlyphs">LH2</text>
<text transform="translate(631.66,567.60) rotate(-90)" text-anchor="end" font-size="8.5" style="stroke-width:0.32px" textLength="17.44" lengthAdjust="spacingAndGlyphs">HOM</text>
<text transform="translate(647.19,567.60) rotate(-90)" text-anchor="end" font-size="8.5" style="stroke-width:0.32px" textLength="21.52" lengthAdjust="spacingAndGlyphs">ROH-1</text>
<text transform="translate(662.71,567.60) rotate(-90)" text-anchor="end" font-size="8.5" style="stroke-width:0.32px" textLength="21.52" lengthAdjust="spacingAndGlyphs">ROH-5</text>
<text transform="translate(678.24,567.60) rotate(-90)" text-anchor="end" font-size="8.5" style="stroke-width:0.32px" textLength="12.54" lengthAdjust="spacingAndGlyphs">q05</text>
<rect x="47.40" y="600.10" width="7.50" height="43.18" fill="#FF0000"/>
<rect x="62.66" y="600.10" width="7.50" height="40.64" fill="#548235"/>
<rect x="77.92" y="600.10" width="7.50" height="40.81" fill="#5B9BD5"/>
<rect x="93.17" y="600.10" width="7.50" height="38.95" fill="#5B9BD5"/>
<rect x="108.43" y="600.10" width="7.50" height="40.81" fill="#5B9BD5"/>
<rect x="123.69" y="600.10" width="7.50" height="42.17" fill="#5B9BD5"/>
<rect x="138.95" y="600.10" width="7.50" height="39.97" fill="#5B9BD5"/>
<rect x="154.21" y="600.10" width="7.50" height="38.62" fill="#5B9BD5"/>
<rect x="84.92" y="600.10" width="6.20" height="21.04" fill="#FFC000"/>
<rect x="100.17" y="600.10" width="6.20" height="8.37" fill="#FFC000"/>
<rect x="115.43" y="600.10" width="6.20" height="32.70" fill="#FFC000"/>
<rect x="130.69" y="600.10" width="6.20" height="40.81" fill="#FFC000"/>
<rect x="145.95" y="600.10" width="6.20" height="31.01" fill="#FFC000"/>
<rect x="161.21" y="600.10" width="6.20" height="14.45" fill="#FFC000"/>
<rect x="175.97" y="600.10" width="7.40" height="98.10" fill="#FFC000"/>
<rect x="191.22" y="600.10" width="7.40" height="43.01" fill="#B6540F"/>
<rect x="206.48" y="600.10" width="7.40" height="43.01" fill="#843C0C"/>
<rect x="221.74" y="600.10" width="7.40" height="51.12" fill="#7030A0"/>
<line x1="54.43" y1="642.94" x2="222.27" y2="642.94" stroke="#FF0000" stroke-width="1.4" stroke-dasharray="3.2 1.8"/>
<rect x="221.74" y="600.10" width="7.40" height="51.12" fill="#7030A0"/>
<line x1="46.80" y1="600.10" x2="229.90" y2="600.10" stroke="#000" stroke-width="1.5" stroke-opacity="0.25"/>
<line x1="46.80" y1="600.10" x2="46.80" y2="751.80" stroke="#000" stroke-width="1.0" stroke-opacity="0.5"/>
<text x="37.90" y="603.15" text-anchor="end" font-size="8.6" textLength="11.39" lengthAdjust="spacingAndGlyphs">0.0</text>
<text x="37.90" y="620.05" text-anchor="end" font-size="8.6" textLength="14.15" lengthAdjust="spacingAndGlyphs">-1.0</text>
<text x="37.90" y="636.95" text-anchor="end" font-size="8.6" textLength="14.15" lengthAdjust="spacingAndGlyphs">-2.0</text>
<text x="37.90" y="653.85" text-anchor="end" font-size="8.6" textLength="14.15" lengthAdjust="spacingAndGlyphs">-3.0</text>
<text x="37.90" y="670.75" text-anchor="end" font-size="8.6" textLength="14.15" lengthAdjust="spacingAndGlyphs">-4.0</text>
<text x="37.90" y="687.65" text-anchor="end" font-size="8.6" textLength="14.15" lengthAdjust="spacingAndGlyphs">-5.0</text>
<text x="37.90" y="704.55" text-anchor="end" font-size="8.6" textLength="14.15" lengthAdjust="spacingAndGlyphs">-6.0</text>
<text x="37.90" y="721.45" text-anchor="end" font-size="8.6" textLength="14.15" lengthAdjust="spacingAndGlyphs">-7.0</text>
<text x="37.90" y="738.35" text-anchor="end" font-size="8.6" textLength="14.15" lengthAdjust="spacingAndGlyphs">-8.0</text>
<text x="37.90" y="755.25" text-anchor="end" font-size="8.6" textLength="14.15" lengthAdjust="spacingAndGlyphs">-9.0</text>
<text transform="translate(57.43,757.80) rotate(-90)" text-anchor="end" font-size="8.5" style="stroke-width:0.32px" textLength="11.50" lengthAdjust="spacingAndGlyphs">IBD</text>
<text transform="translate(72.69,757.80) rotate(-90)" text-anchor="end" font-size="8.5" style="stroke-width:0.32px" textLength="13.20" lengthAdjust="spacingAndGlyphs">PED</text>
<text transform="translate(87.95,757.80) rotate(-90)" text-anchor="end" font-size="8.5" style="stroke-width:0.32px" textLength="13.28" lengthAdjust="spacingAndGlyphs">VR1</text>
<text transform="translate(103.20,757.80) rotate(-90)" text-anchor="end" font-size="8.5" style="stroke-width:0.32px" textLength="13.28" lengthAdjust="spacingAndGlyphs">VR2</text>
<text transform="translate(118.46,757.80) rotate(-90)" text-anchor="end" font-size="8.5" style="stroke-width:0.32px" textLength="12.82" lengthAdjust="spacingAndGlyphs">YA1</text>
<text transform="translate(133.72,757.80) rotate(-90)" text-anchor="end" font-size="8.5" style="stroke-width:0.32px" textLength="12.82" lengthAdjust="spacingAndGlyphs">YA2</text>
<text transform="translate(148.98,757.80) rotate(-90)" text-anchor="end" font-size="8.5" style="stroke-width:0.32px" textLength="12.63" lengthAdjust="spacingAndGlyphs">LH1</text>
<text transform="translate(164.24,757.80) rotate(-90)" text-anchor="end" font-size="8.5" style="stroke-width:0.32px" textLength="12.63" lengthAdjust="spacingAndGlyphs">LH2</text>
<text transform="translate(179.50,757.80) rotate(-90)" text-anchor="end" font-size="8.5" style="stroke-width:0.32px" textLength="17.44" lengthAdjust="spacingAndGlyphs">HOM</text>
<text transform="translate(194.75,757.80) rotate(-90)" text-anchor="end" font-size="8.5" style="stroke-width:0.32px" textLength="21.52" lengthAdjust="spacingAndGlyphs">ROH-1</text>
<text transform="translate(210.01,757.80) rotate(-90)" text-anchor="end" font-size="8.5" style="stroke-width:0.32px" textLength="21.52" lengthAdjust="spacingAndGlyphs">ROH-5</text>
<text transform="translate(225.27,757.80) rotate(-90)" text-anchor="end" font-size="8.5" style="stroke-width:0.32px" textLength="12.54" lengthAdjust="spacingAndGlyphs">q05</text>
<rect x="271.40" y="600.10" width="7.50" height="53.07" fill="#FF0000"/>
<rect x="286.91" y="600.10" width="7.50" height="52.05" fill="#548235"/>
<rect x="302.42" y="600.10" width="7.50" height="48.50" fill="#5B9BD5"/>
<rect x="317.93" y="600.10" width="7.50" height="45.63" fill="#5B9BD5"/>
<rect x="333.43" y="600.10" width="7.50" height="49.52" fill="#5B9BD5"/>
<rect x="348.94" y="600.10" width="7.50" height="51.21" fill="#5B9BD5"/>
<rect x="364.45" y="600.10" width="7.50" height="48.00" fill="#5B9BD5"/>
<rect x="379.96" y="600.10" width="7.50" height="45.97" fill="#5B9BD5"/>
<rect x="309.42" y="600.10" width="6.20" height="39.21" fill="#FFC000"/>
<rect x="324.93" y="600.10" width="6.20" height="30.25" fill="#FFC000"/>
<rect x="340.43" y="600.10" width="6.20" height="43.94" fill="#FFC000"/>
<rect x="355.94" y="600.10" width="6.20" height="52.39" fill="#FFC000"/>
<rect x="371.45" y="600.10" width="6.20" height="41.91" fill="#FFC000"/>
<rect x="386.96" y="600.10" width="6.20" height="34.81" fill="#FFC000"/>
<rect x="401.97" y="600.10" width="7.40" height="140.95" fill="#FFC000"/>
<rect x="417.48" y="600.10" width="7.40" height="52.73" fill="#B6540F"/>
<rect x="432.98" y="600.10" width="7.40" height="52.73" fill="#843C0C"/>
<rect x="448.49" y="600.10" width="7.40" height="68.61" fill="#7030A0"/>
<line x1="278.55" y1="652.83" x2="449.15" y2="652.83" stroke="#FF0000" stroke-width="1.4" stroke-dasharray="3.2 1.8"/>
<rect x="448.49" y="600.10" width="7.40" height="68.61" fill="#7030A0"/>
<line x1="270.80" y1="600.10" x2="456.90" y2="600.10" stroke="#000" stroke-width="1.5" stroke-opacity="0.25"/>
<line x1="270.80" y1="600.10" x2="270.80" y2="751.80" stroke="#000" stroke-width="1.0" stroke-opacity="0.5"/>
<text x="261.90" y="603.15" text-anchor="end" font-size="8.6" textLength="11.39" lengthAdjust="spacingAndGlyphs">0.0</text>
<text x="261.90" y="620.05" text-anchor="end" font-size="8.6" textLength="14.15" lengthAdjust="spacingAndGlyphs">-1.0</text>
<text x="261.90" y="636.95" text-anchor="end" font-size="8.6" textLength="14.15" lengthAdjust="spacingAndGlyphs">-2.0</text>
<text x="261.90" y="653.85" text-anchor="end" font-size="8.6" textLength="14.15" lengthAdjust="spacingAndGlyphs">-3.0</text>
<text x="261.90" y="670.75" text-anchor="end" font-size="8.6" textLength="14.15" lengthAdjust="spacingAndGlyphs">-4.0</text>
<text x="261.90" y="687.65" text-anchor="end" font-size="8.6" textLength="14.15" lengthAdjust="spacingAndGlyphs">-5.0</text>
<text x="261.90" y="704.55" text-anchor="end" font-size="8.6" textLength="14.15" lengthAdjust="spacingAndGlyphs">-6.0</text>
<text x="261.90" y="721.45" text-anchor="end" font-size="8.6" textLength="14.15" lengthAdjust="spacingAndGlyphs">-7.0</text>
<text x="261.90" y="738.35" text-anchor="end" font-size="8.6" textLength="14.15" lengthAdjust="spacingAndGlyphs">-8.0</text>
<text x="261.90" y="755.25" text-anchor="end" font-size="8.6" textLength="14.15" lengthAdjust="spacingAndGlyphs">-9.0</text>
<text transform="translate(281.55,757.80) rotate(-90)" text-anchor="end" font-size="8.5" style="stroke-width:0.32px" textLength="11.50" lengthAdjust="spacingAndGlyphs">IBD</text>
<text transform="translate(297.06,757.80) rotate(-90)" text-anchor="end" font-size="8.5" style="stroke-width:0.32px" textLength="13.20" lengthAdjust="spacingAndGlyphs">PED</text>
<text transform="translate(312.57,757.80) rotate(-90)" text-anchor="end" font-size="8.5" style="stroke-width:0.32px" textLength="13.28" lengthAdjust="spacingAndGlyphs">VR1</text>
<text transform="translate(328.08,757.80) rotate(-90)" text-anchor="end" font-size="8.5" style="stroke-width:0.32px" textLength="13.28" lengthAdjust="spacingAndGlyphs">VR2</text>
<text transform="translate(343.59,757.80) rotate(-90)" text-anchor="end" font-size="8.5" style="stroke-width:0.32px" textLength="12.82" lengthAdjust="spacingAndGlyphs">YA1</text>
<text transform="translate(359.10,757.80) rotate(-90)" text-anchor="end" font-size="8.5" style="stroke-width:0.32px" textLength="12.82" lengthAdjust="spacingAndGlyphs">YA2</text>
<text transform="translate(374.60,757.80) rotate(-90)" text-anchor="end" font-size="8.5" style="stroke-width:0.32px" textLength="12.63" lengthAdjust="spacingAndGlyphs">LH1</text>
<text transform="translate(390.11,757.80) rotate(-90)" text-anchor="end" font-size="8.5" style="stroke-width:0.32px" textLength="12.63" lengthAdjust="spacingAndGlyphs">LH2</text>
<text transform="translate(405.62,757.80) rotate(-90)" text-anchor="end" font-size="8.5" style="stroke-width:0.32px" textLength="17.44" lengthAdjust="spacingAndGlyphs">HOM</text>
<text transform="translate(421.13,757.80) rotate(-90)" text-anchor="end" font-size="8.5" style="stroke-width:0.32px" textLength="21.52" lengthAdjust="spacingAndGlyphs">ROH-1</text>
<text transform="translate(436.64,757.80) rotate(-90)" text-anchor="end" font-size="8.5" style="stroke-width:0.32px" textLength="21.52" lengthAdjust="spacingAndGlyphs">ROH-5</text>
<text transform="translate(452.15,757.80) rotate(-90)" text-anchor="end" font-size="8.5" style="stroke-width:0.32px" textLength="12.54" lengthAdjust="spacingAndGlyphs">q05</text>
<rect x="498.20" y="600.10" width="7.50" height="44.45" fill="#FF0000"/>
<rect x="513.71" y="600.10" width="7.50" height="41.57" fill="#548235"/>
<rect x="529.22" y="600.10" width="7.50" height="43.60" fill="#5B9BD5"/>
<rect x="544.73" y="600.10" width="7.50" height="36.50" fill="#5B9BD5"/>
<rect x="560.23" y="600.10" width="7.50" height="43.94" fill="#5B9BD5"/>
<rect x="575.74" y="600.10" width="7.50" height="43.94" fill="#5B9BD5"/>
<rect x="591.25" y="600.10" width="7.50" height="42.93" fill="#5B9BD5"/>
<rect x="606.76" y="600.10" width="7.50" height="39.88" fill="#5B9BD5"/>
<rect x="536.22" y="600.10" width="6.20" height="26.70" fill="#FFC000"/>
<rect x="551.73" y="600.10" width="6.20" height="11.49" fill="#FFC000"/>
<rect x="567.23" y="600.10" width="6.20" height="36.50" fill="#FFC000"/>
<rect x="582.74" y="600.10" width="6.20" height="43.94" fill="#FFC000"/>
<rect x="598.25" y="600.10" width="6.20" height="31.10" fill="#FFC000"/>
<rect x="613.76" y="600.10" width="6.20" height="13.52" fill="#FFC000"/>
<rect x="628.77" y="600.10" width="7.40" height="100.22" fill="#FFC000"/>
<rect x="644.28" y="600.10" width="7.40" height="46.81" fill="#B6540F"/>
<rect x="659.78" y="600.10" width="7.40" height="43.60" fill="#843C0C"/>
<rect x="675.29" y="600.10" width="7.40" height="48.84" fill="#7030A0"/>
<line x1="505.35" y1="644.55" x2="675.95" y2="644.55" stroke="#FF0000" stroke-width="1.4" stroke-dasharray="3.2 1.8"/>
<rect x="675.29" y="600.10" width="7.40" height="48.84" fill="#7030A0"/>
<line x1="497.60" y1="600.10" x2="683.70" y2="600.10" stroke="#000" stroke-width="1.5" stroke-opacity="0.25"/>
<line x1="497.60" y1="600.10" x2="497.60" y2="751.80" stroke="#000" stroke-width="1.0" stroke-opacity="0.5"/>
<text x="488.70" y="603.15" text-anchor="end" font-size="8.6" textLength="11.39" lengthAdjust="spacingAndGlyphs">0.0</text>
<text x="488.70" y="620.05" text-anchor="end" font-size="8.6" textLength="14.15" lengthAdjust="spacingAndGlyphs">-1.0</text>
<text x="488.70" y="636.95" text-anchor="end" font-size="8.6" textLength="14.15" lengthAdjust="spacingAndGlyphs">-2.0</text>
<text x="488.70" y="653.85" text-anchor="end" font-size="8.6" textLength="14.15" lengthAdjust="spacingAndGlyphs">-3.0</text>
<text x="488.70" y="670.75" text-anchor="end" font-size="8.6" textLength="14.15" lengthAdjust="spacingAndGlyphs">-4.0</text>
<text x="488.70" y="687.65" text-anchor="end" font-size="8.6" textLength="14.15" lengthAdjust="spacingAndGlyphs">-5.0</text>
<text x="488.70" y="704.55" text-anchor="end" font-size="8.6" textLength="14.15" lengthAdjust="spacingAndGlyphs">-6.0</text>
<text x="488.70" y="721.45" text-anchor="end" font-size="8.6" textLength="14.15" lengthAdjust="spacingAndGlyphs">-7.0</text>
<text x="488.70" y="738.35" text-anchor="end" font-size="8.6" textLength="14.15" lengthAdjust="spacingAndGlyphs">-8.0</text>
<text x="488.70" y="755.25" text-anchor="end" font-size="8.6" textLength="14.15" lengthAdjust="spacingAndGlyphs">-9.0</text>
<text transform="translate(508.35,757.80) rotate(-90)" text-anchor="end" font-size="8.5" style="stroke-width:0.32px" textLength="11.50" lengthAdjust="spacingAndGlyphs">IBD</text>
<text transform="translate(523.86,757.80) rotate(-90)" text-anchor="end" font-size="8.5" style="stroke-width:0.32px" textLength="13.20" lengthAdjust="spacingAndGlyphs">PED</text>
<text transform="translate(539.37,757.80) rotate(-90)" text-anchor="end" font-size="8.5" style="stroke-width:0.32px" textLength="13.28" lengthAdjust="spacingAndGlyphs">VR1</text>
<text transform="translate(554.88,757.80) rotate(-90)" text-anchor="end" font-size="8.5" style="stroke-width:0.32px" textLength="13.28" lengthAdjust="spacingAndGlyphs">VR2</text>
<text transform="translate(570.39,757.80) rotate(-90)" text-anchor="end" font-size="8.5" style="stroke-width:0.32px" textLength="12.82" lengthAdjust="spacingAndGlyphs">YA1</text>
<text transform="translate(585.90,757.80) rotate(-90)" text-anchor="end" font-size="8.5" style="stroke-width:0.32px" textLength="12.82" lengthAdjust="spacingAndGlyphs">YA2</text>
<text transform="translate(601.40,757.80) rotate(-90)" text-anchor="end" font-size="8.5" style="stroke-width:0.32px" textLength="12.63" lengthAdjust="spacingAndGlyphs">LH1</text>
<text transform="translate(616.91,757.80) rotate(-90)" text-anchor="end" font-size="8.5" style="stroke-width:0.32px" textLength="12.63" lengthAdjust="spacingAndGlyphs">LH2</text>
<text transform="translate(632.42,757.80) rotate(-90)" text-anchor="end" font-size="8.5" style="stroke-width:0.32px" textLength="17.44" lengthAdjust="spacingAndGlyphs">HOM</text>
<text transform="translate(647.93,757.80) rotate(-90)" text-anchor="end" font-size="8.5" style="stroke-width:0.32px" textLength="21.52" lengthAdjust="spacingAndGlyphs">ROH-1</text>
<text transform="translate(663.44,757.80) rotate(-90)" text-anchor="end" font-size="8.5" style="stroke-width:0.32px" textLength="21.52" lengthAdjust="spacingAndGlyphs">ROH-5</text>
<text transform="translate(678.95,757.80) rotate(-90)" text-anchor="end" font-size="8.5" style="stroke-width:0.32px" textLength="12.54" lengthAdjust="spacingAndGlyphs">q05</text>
<text x="110.80" y="18.70" font-size="21.5" font-weight="bold" style="stroke-width:0.75px" textLength="24.80" lengthAdjust="spacingAndGlyphs">RC</text>
<text x="339.10" y="19.70" font-size="21.5" font-weight="bold" style="stroke-width:0.75px" textLength="22.40" lengthAdjust="spacingAndGlyphs">EC</text>
<text x="570.40" y="19.10" font-size="21.5" font-weight="bold" style="stroke-width:0.75px" textLength="32.20" lengthAdjust="spacingAndGlyphs">SEL</text>
<text transform="translate(10.70,117.30) rotate(-90)" text-anchor="middle" font-size="10.6" font-weight="bold" style="stroke-width:0.35px" textLength="5.00" lengthAdjust="spacingAndGlyphs">F</text>
<text transform="translate(10.30,306.70) rotate(-90)" text-anchor="middle" font-size="10.6" font-weight="bold" style="stroke-width:0.35px" textLength="12.40" lengthAdjust="spacingAndGlyphs">VF</text>
<text transform="translate(10.30,492.50) rotate(-90)" text-anchor="middle" font-size="10.6" font-weight="bold" font-style="italic" style="stroke-width:0.35px" textLength="4.30" lengthAdjust="spacingAndGlyphs">r</text>
<text transform="translate(10.90,687.80) rotate(-90)" text-anchor="middle" font-size="10.6" font-weight="bold" style="stroke-width:0.35px" textLength="18.80" lengthAdjust="spacingAndGlyphs">ΔID</text>
</svg>
</body></html>
